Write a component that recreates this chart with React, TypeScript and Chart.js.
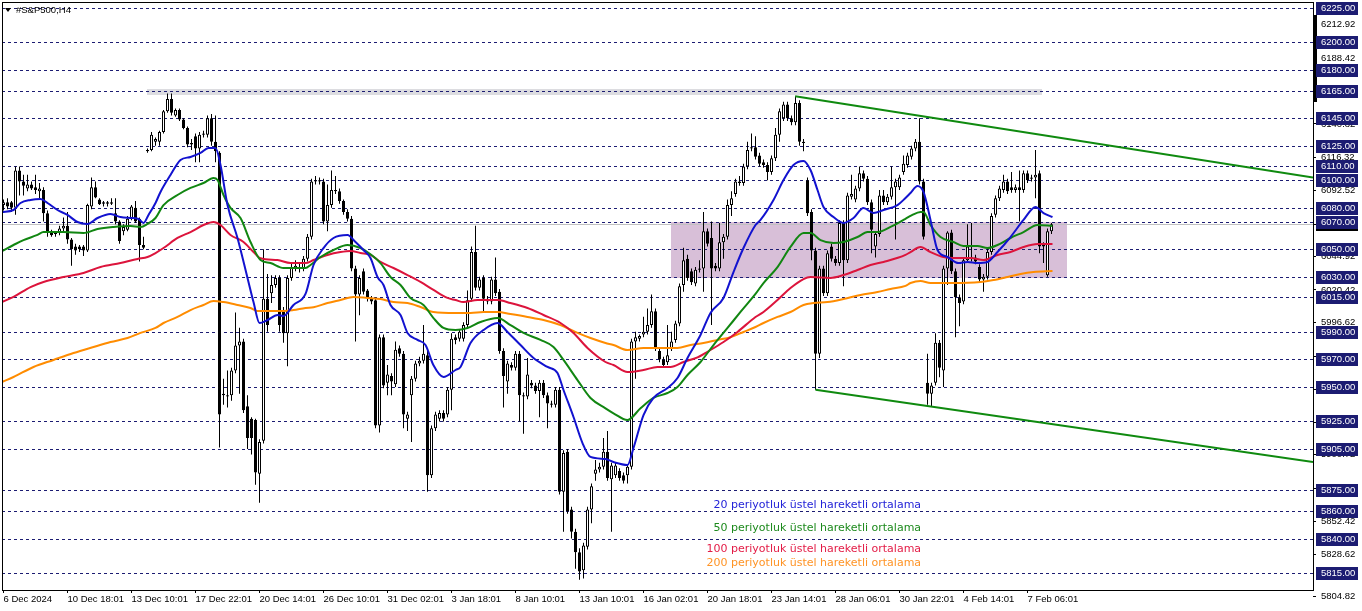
import React, { useEffect, useRef } from 'react';
import { Chart, registerables } from 'chart.js';

Chart.register(...registerables);

// ---------- DATA ----------
// H4 candles: [open, high, low, close]
const CANDLES: [number, number, number, number][] = [
  [6082, 6086, 6078, 6084], [6084, 6087, 6079, 6081], [6084, 6085, 6077, 6080], [6080, 6110, 6075, 6107],
  [6107, 6110, 6089, 6099], [6099, 6104, 6089, 6096], [6094, 6104, 6092, 6097], [6097, 6099, 6093, 6094],
  [6095, 6104, 6090, 6093], [6092, 6098, 6087, 6094], [6093, 6095, 6070, 6076], [6076, 6078, 6059, 6063],
  [6063, 6064, 6059, 6060], [6061, 6063, 6059, 6062], [6062, 6067, 6060, 6065], [6065, 6073, 6063, 6067],
  [6067, 6077, 6054, 6057], [6057, 6058, 6038, 6050], [6052, 6054, 6046, 6049], [6052, 6053, 6048, 6050],
  [6052, 6053, 6045, 6049], [6049, 6083, 6048, 6082], [6081, 6102, 6079, 6095], [6095, 6099, 6087, 6087.5],
  [6086, 6087, 6082, 6082.5], [6083, 6085, 6081, 6084], [6084, 6085, 6081, 6083], [6084, 6087, 6082, 6083],
  [6076, 6087, 6068, 6070], [6070, 6071, 6054, 6056], [6063, 6068, 6060, 6066], [6064, 6074, 6063, 6072],
  [6072, 6082, 6071, 6081], [6080, 6085, 6069, 6070], [6072, 6073, 6041, 6053], [6053, 6059, 6050, 6051],
  [6121, 6123, 6120, 6122], [6122, 6135, 6121, 6133], [6128, 6131, 6125, 6130], [6128, 6136, 6125, 6135],
  [6135, 6151, 6134, 6150], [6150, 6163, 6149, 6159], [6159, 6163, 6147, 6149], [6147, 6152, 6146, 6151],
  [6151, 6152, 6143, 6144], [6144, 6145, 6137, 6138], [6138, 6139, 6124, 6126], [6126, 6130, 6122, 6127],
  [6132, 6134, 6113, 6123], [6123, 6135, 6113, 6133], [6133, 6136, 6131, 6134], [6133, 6147, 6131, 6145],
  [6145, 6148, 6125, 6128], [6128, 6147, 6113, 6121], [6120, 6121, 5906, 5930], [5944, 5956, 5937, 5945],
  [5944, 5962, 5935, 5943], [5944, 5964, 5940, 5962], [5962, 6004, 5960, 5980], [5980, 5993, 5945, 5983],
  [5983, 5985, 5931, 5933], [5936, 5944, 5905, 5913], [5927, 5928, 5901, 5913], [5926, 5927, 5879, 5888],
  [5887, 5912, 5866, 5910], [5911, 6050, 5909, 6014], [6014, 6032, 5990, 5995], [6018, 6031, 6011, 6024],
  [6024, 6031, 6022, 6029], [6029, 6031, 5990, 5995], [6005, 6008, 5982, 5989], [5989, 6031, 5965, 6029],
  [6029, 6040, 6027, 6037], [6036, 6042, 6034, 6038], [6037, 6040, 6033, 6036], [6036, 6045, 6034, 6043],
  [6043, 6061, 6041, 6059], [6059, 6101, 6057, 6099], [6099, 6103, 6097, 6100], [6100, 6102, 6097, 6099],
  [6099, 6101, 6068, 6070], [6070, 6097, 6063, 6082], [6082, 6107, 6080, 6093], [6093, 6103, 6090, 6092],
  [6092, 6094, 6083, 6085], [6085, 6086, 6075, 6077], [6077, 6079, 6070, 6072], [6072, 6074, 6034, 6036],
  [6036, 6038, 5983, 6017], [6017, 6031, 6002, 6029], [6034, 6036, 6017, 6019], [6020, 6021, 6012, 6015],
  [6014, 6016, 6010, 6012], [6013, 6015, 5920, 5922], [5922, 5988, 5917, 5986], [5986, 5988, 5949, 5951],
  [5953, 5966, 5944, 5959], [5958, 5960, 5944, 5954], [5952, 5983, 5950, 5977], [5978, 5980, 5972, 5974],
  [5974, 5976, 5920, 5930], [5927, 5932, 5918, 5930], [5944, 5958, 5910, 5956], [5956, 5969, 5954, 5967],
  [5967, 5972, 5965, 5969], [5969, 5995, 5967, 5974], [5973, 5976, 5874, 5886], [5886, 5922, 5884, 5920],
  [5920, 5932, 5918, 5930], [5927, 5933, 5925, 5931], [5931, 5933, 5925, 5927], [5930, 5950, 5928, 5948],
  [5948, 5989, 5933, 5985], [5986, 5988, 5981, 5984], [5985, 5992, 5983, 5990], [5985, 5997, 5983, 5995],
  [5995, 6020, 5993, 6013], [6014, 6052, 6012, 6048], [6048, 6067, 6020, 6022], [6022, 6030, 6020, 6028],
  [6029, 6031, 6005, 6014], [6014, 6016, 6010, 6012], [6012, 6030, 6010, 6028], [6028, 6044, 6016, 6018],
  [6019, 6021, 5974, 5976], [5976, 5978, 5935, 5958], [5954, 5969, 5945, 5967], [5966, 5968, 5962, 5964],
  [5964, 5976, 5962, 5974], [5974, 5976, 5925, 5944], [5944, 5946, 5916, 5943], [5943, 5971, 5941, 5959],
  [5953, 5955, 5949, 5951], [5951, 5953, 5945, 5947], [5947, 5955, 5928, 5953], [5953, 5955, 5942, 5944],
  [5944, 5946, 5920, 5938], [5938, 5940, 5935, 5937], [5937, 5950, 5935, 5948], [5948, 5950, 5872, 5874],
  [5874, 5904, 5845, 5902], [5903, 5905, 5858, 5860], [5861, 5863, 5840, 5845], [5845, 5847, 5818, 5830],
  [5830, 5833, 5810, 5816], [5817, 5837, 5811, 5835], [5834, 5863, 5832, 5861], [5861, 5880, 5851, 5878],
  [5887, 5897, 5882, 5890], [5890, 5895, 5888, 5892], [5892, 5913, 5890, 5903], [5903, 5918, 5882, 5884],
  [5883, 5895, 5845, 5893], [5886, 5895, 5884, 5893], [5889, 5891, 5882, 5884], [5886, 5888, 5880, 5882],
  [5886, 5894, 5880, 5892], [5892, 5985, 5890, 5983], [5983, 5990, 5956, 5986], [5985, 5988, 5983, 5987],
  [5988, 6001, 5986, 5990], [5990, 6007, 5988, 5995], [5995, 6017, 5993, 6005], [6005, 6007, 5976, 5978],
  [5976, 5978, 5968, 5970], [5970, 5972, 5964, 5966], [5968, 5995, 5966, 5973], [5978, 5990, 5976, 5983],
  [5984, 5998, 5982, 5996], [5996, 6025, 5994, 6023], [6024, 6051, 6019, 6042], [6043, 6046, 6027, 6029],
  [6034, 6036, 6024, 6026], [6025, 6037, 6023, 6035], [6035, 6042, 6033, 6036], [6036, 6077, 6019, 6063],
  [6063, 6065, 6052, 6054], [6058, 6070, 5995, 6036], [6038, 6040, 6034, 6036], [6036, 6069, 6034, 6055],
  [6055, 6061, 6043, 6059], [6059, 6086, 6057, 6082], [6082, 6092, 6074, 6087], [6090, 6101, 6088, 6099],
  [6098, 6103, 6096, 6099], [6098, 6112, 6096, 6110], [6110, 6128, 6108, 6122], [6123, 6134, 6121, 6124],
  [6124, 6132, 6115, 6117], [6118, 6120, 6110, 6112], [6113, 6115, 6109, 6111], [6111, 6113, 6100, 6106],
  [6106, 6118, 6104, 6116], [6116, 6138, 6114, 6133], [6133, 6152, 6128, 6150], [6145, 6157, 6143, 6155],
  [6155, 6157, 6143, 6145], [6145, 6147, 6140, 6142], [6142, 6161, 6140, 6156], [6156, 6158, 6125, 6128],
  [6128, 6130, 6121, 6127], [6100, 6102, 6074, 6076], [6077, 6079, 6042, 6049], [6049, 6051, 5948, 5974],
  [5974, 6038, 5971, 6036], [6036, 6038, 6016, 6018], [6018, 6049, 6016, 6047], [6052, 6054, 6041, 6043],
  [6043, 6045, 6038, 6040], [6040, 6071, 6038, 6069], [6069, 6071, 6023, 6042], [6042, 6091, 6040, 6089],
  [6088, 6104, 6086, 6090], [6086, 6096, 6084, 6094], [6094, 6110, 6092, 6105], [6105, 6107, 6099, 6101],
  [6101, 6103, 6082, 6084], [6084, 6086, 6047, 6064], [6052, 6063, 6044, 6061], [6061, 6093, 6059, 6089],
  [6089, 6093, 6082, 6084], [6084, 6090, 6082, 6088], [6088, 6110, 6086, 6095], [6095, 6101, 6057, 6099],
  [6095, 6104, 6093, 6102], [6106, 6118, 6104, 6112], [6111, 6120, 6109, 6118], [6117, 6125, 6115, 6123],
  [6123, 6130, 6121, 6128], [6128, 6145, 6097, 6099], [6099, 6101, 6057, 6059], [5953, 5974, 5937, 5945],
  [5945, 5953, 5936, 5951], [5953, 5989, 5951, 5982], [5982, 5984, 5957, 5964], [5962, 6038, 5950, 6036],
  [6036, 6063, 6024, 6062], [6062, 6064, 6032, 6034], [6034, 6036, 5986, 6015], [6015, 6017, 5994, 6011],
  [6012, 6044, 6010, 6042], [6042, 6068, 6040, 6052], [6044, 6069, 6041, 6043], [6044, 6046, 6039, 6041],
  [6037, 6039, 6026, 6028], [6028, 6032, 6019, 6030], [6030, 6050, 6028, 6048], [6048, 6076, 6046, 6074],
  [6075, 6089, 6073, 6087], [6087, 6096, 6085, 6094], [6093, 6104, 6091, 6099], [6099, 6101, 6090, 6092],
  [6095, 6106, 6091, 6093], [6093, 6097, 6091, 6095], [6095, 6107, 6070, 6093], [6093, 6107, 6091, 6105],
  [6105, 6107, 6098, 6100], [6101, 6104, 6099, 6102], [6102, 6122, 6087, 6104], [6105, 6107, 6047, 6052],
  [6053, 6055, 6040, 6052], [6031, 6065, 6030, 6063], [6063, 6069, 6061, 6068.02],
];

// Moving averages: [bar index, price]
const EMA20: [number, number][] = [
  [-0.4, 6077], [2.5, 6078.4], [4.25, 6083.5], [6.75, 6085.7], [9.25, 6086.4], [11, 6083.5], [13.5, 6078.4],
  [16, 6074.8], [18.5, 6069.7], [21, 6068.3], [23.5, 6072.6], [26.75, 6075.5], [29.25, 6073.3], [31.75, 6072.6],
  [33.75, 6071.9], [35, 6069], [36.25, 6074.8], [38, 6083.5], [39.25, 6091.5], [41.75, 6103.8], [44.25, 6114.7],
  [46.75, 6116.9], [49.25, 6119.8], [51.25, 6123.4], [53, 6123.4], [54.25, 6111.1], [56, 6082], [58.5, 6058.1],
  [61, 6029.1], [62.5, 6011.6], [64, 5996.4], [66, 5998.6], [68.5, 6002.2], [70, 6001.5], [72.5, 6009.5],
  [75.5, 6017.5], [77.5, 6038.5], [80, 6050.8], [82.5, 6058.1], [86, 6060.3], [88, 6055.2], [90, 6049.4],
  [91.75, 6043.6], [93.5, 6029.8], [95, 6024], [96.75, 6009.5], [99.25, 6002.2], [101, 5989.2], [103.5, 5984.1],
  [105.5, 5980.4], [107.5, 5965.7], [110, 5957.2], [113, 5962.3], [114.25, 5964.5], [116.75, 5981.9], [120, 5991.3],
  [123.5, 5996.4], [126, 5989.9], [129.25, 5980.4], [132.5, 5971], [136, 5964.5], [138.5, 5960.1], [140, 5947.8],
  [142.5, 5928.2], [144.75, 5909.3], [146.75, 5899.2], [150.5, 5897.7], [152.5, 5895.5], [156, 5893.4],
  [157.5, 5905.7], [160, 5929.6], [162.5, 5942], [166, 5949.2], [168.5, 5956.5], [171, 5971], [174.25, 5987.7],
  [176.75, 6003.7], [180, 6014.6], [182.5, 6033.4], [185, 6050.8], [188, 6067.5], [189.25, 6071.2], [192.5, 6085.7],
  [195, 6100.2], [197.5, 6111.1], [200, 6114], [201.75, 6107.4], [203.5, 6092.9], [205, 6080.6], [207.5, 6073.3],
  [210, 6069], [212.5, 6072.6], [215, 6079.9], [217.5, 6076.2], [220, 6078.4], [223.5, 6082], [225.5, 6087.1],
  [226.75, 6090.7], [228.5, 6095.8], [230, 6091.5], [231.75, 6071.2], [233.5, 6049.4], [236, 6044.3],
  [238.75, 6039.9], [241, 6040.7], [243.5, 6039.9], [246, 6040.7], [248.5, 6047.9], [251.75, 6058.8], [255, 6071.2],
  [258, 6080.6], [260, 6076.2], [262.25, 6073.3],
];

const EMA50: [number, number][] = [
  [-0.4, 6048.5], [2.5, 6053], [5, 6056.6], [8.5, 6060.3], [10, 6062.4], [15, 6062.4], [20, 6061.7], [23.5, 6064.6],
  [27.5, 6066.1], [31.75, 6066.8], [34.25, 6066.1], [36, 6068.3], [38, 6072.6], [40, 6082], [43.5, 6089.3],
  [46.75, 6094.4], [50, 6098], [52.5, 6101.6], [53.5, 6100.2], [55, 6089.3], [56.75, 6079.9], [59.25, 6072.6],
  [61.75, 6055.2], [64.25, 6042.1], [66.75, 6039.9], [70, 6036.3], [75.5, 6036.3], [76.75, 6038.5], [79.25, 6044.3],
  [82.5, 6049.4], [86, 6053], [89.25, 6050.8], [91.75, 6046.3], [94.25, 6039.9], [96.75, 6029.8], [99.25, 6024],
  [101.75, 6014.6], [105, 6009.5], [107.5, 6000], [110, 5992.8], [113, 5991.3], [116, 5992.8], [119.25, 5997.1],
  [123.5, 6000], [126.75, 5994.9], [130, 5989.2], [134.25, 5984.1], [137.5, 5979], [140, 5969.6], [143.5, 5955],
  [146.75, 5942], [150.5, 5934.5], [152.5, 5930.9], [156, 5926], [159.25, 5934.5], [162.5, 5942], [166, 5945.6],
  [168.5, 5950], [171, 5958.7], [174.25, 5968.1], [177.5, 5980.4], [181, 5992.8], [184.25, 6004.4], [188, 6017.5],
  [190, 6025.4], [193.5, 6037], [196.75, 6051.6], [200, 6061.7], [201.75, 6061.7], [204.25, 6056.6], [207.5, 6054.5],
  [210, 6055.2], [213.5, 6058.8], [216, 6062.4], [218.5, 6062.4], [221.75, 6066.1], [225.5, 6072], [227, 6074.5],
  [229.25, 6077], [230, 6077], [231.75, 6067.5], [234.25, 6058.8], [237.5, 6055.2], [240, 6052.3], [243.5, 6052.3],
  [246, 6050.8], [248.5, 6053], [251.75, 6058.1], [255, 6062.4], [258.5, 6067.5], [262.25, 6066.8],
];

const EMA100: [number, number][] = [
  [-0.4, 6011.6], [2.5, 6015.3], [6.75, 6022.5], [10, 6026.2], [15, 6029.8], [20, 6032.7], [24.25, 6037],
  [29.25, 6039.9], [33.5, 6042.9], [36, 6044.3], [38, 6047.2], [40, 6050.8], [43.5, 6058.1], [46.75, 6062.4],
  [50, 6067.5], [52.5, 6069.7], [54.25, 6067.5], [56.75, 6060.3], [60, 6055.2], [62.5, 6047.9], [64.25, 6043.4],
  [68.5, 6042.1], [71.75, 6039.9], [75.5, 6039.9], [77.5, 6042.1], [81, 6045.8], [84.25, 6047.9], [86.75, 6048.7],
  [89.25, 6047.2], [91.75, 6045.8], [94.25, 6040.7], [97.5, 6036.3], [101, 6031.2], [104.25, 6026.2],
  [107.5, 6020.4], [111, 6014.6], [113, 6013.1], [115, 6011.6], [118.5, 6013.1], [123.5, 6013.1], [126.75, 6010.9],
  [131, 6007.3], [135, 6002.2], [139.25, 5996.4], [142.5, 5989.2], [146, 5978.3], [150.5, 5968.1], [152.5, 5965.9],
  [156, 5960.8], [160, 5962.3], [163.5, 5964.5], [166.75, 5964.5], [170, 5968.1], [173.5, 5971.5], [176.75, 5976.8],
  [180, 5982.6], [183.5, 5989.9], [188, 6000.8], [190, 6004.4], [193.5, 6013.1], [196.75, 6021.8], [200, 6028.3],
  [201.75, 6029.8], [206.75, 6029.1], [210, 6031.2], [213.5, 6034.9], [216.75, 6038.5], [220, 6040.7],
  [225.5, 6045.8], [226.75, 6047.9], [229.25, 6051.6], [231.75, 6047.9], [235, 6044.3], [238.5, 6043.6],
  [241.75, 6043.6], [245, 6042.1], [248.5, 6045.8], [251.75, 6047.9], [255, 6051.6], [258.5, 6053.7], [262.25, 6053.7],
];

const EMA200: [number, number][] = [
  [-0.4, 5953.6], [2.5, 5957.2], [7.5, 5964.5], [12.5, 5969.6], [17.5, 5974.6], [22.5, 5979], [26.75, 5982.6],
  [31, 5985.5], [34.25, 5989.2], [38, 5992.8], [40, 5996.4], [43.5, 6000.8], [46.75, 6005.8], [50, 6009.5],
  [52.5, 6012.4], [55, 6011.6], [58.5, 6009.5], [61.75, 6007.3], [63.5, 6005.1], [70, 6005.1], [72.5, 6005.8],
  [75.5, 6007.3], [77.5, 6007.8], [81, 6010.9], [84.25, 6013.1], [87.5, 6015.3], [91, 6014.6], [94.25, 6013.8],
  [97.5, 6011.6], [101, 6010.9], [104.25, 6008], [107.5, 6004.4], [113, 6003.7], [116.75, 6003.7], [120, 6004.4],
  [123.5, 6004.4], [126.75, 6002.9], [131, 6000.8], [135, 5998.6], [139.25, 5994.9], [143.5, 5989.2],
  [146.75, 5985.5], [150.5, 5981.9], [152.5, 5980.4], [156, 5976.8], [160, 5978.3], [168.5, 5978.3],
  [171.75, 5980.4], [175, 5981.9], [178.5, 5984.1], [181.75, 5986.1], [185, 5989.9], [188, 5993.5], [190, 5996.4],
  [193.5, 6000.8], [196.75, 6004.4], [200, 6009.5], [202.5, 6010.9], [206, 6011.6], [210, 6013.8], [214.25, 6016.7],
  [218.5, 6018.9], [221.75, 6021.1], [225.5, 6023.3], [226.75, 6025.4], [229.25, 6026.9], [231.75, 6025.4],
  [237.5, 6025.4], [244.25, 6026.2], [247.5, 6027.6], [251, 6029.8], [254.25, 6032], [257.5, 6033.4], [262.25, 6034.1],
];

// Trend channel lines: [bar index, price]
const CHANNEL_UPPER: [number, number][] = [[197.9, 6161], [327.375, 6101.9]];
const CHANNEL_LOWER: [number, number][] = [[203, 5948], [327.375, 5895.5]];

// Time axis
const DATE_LABELS = [
  '6 Dec 2024', '10 Dec 18:01', '13 Dec 10:01', '17 Dec 22:01', '20 Dec 14:01', '26 Dec 10:01',
  '31 Dec 02:01', '3 Jan 18:01', '8 Jan 10:01', '13 Jan 10:01', '16 Jan 02:01', '20 Jan 18:01',
  '23 Jan 14:01', '28 Jan 06:01', '30 Jan 22:01', '4 Feb 14:01', '7 Feb 06:01',
];
const BARS_PER_DATE_LABEL = 16;

// Price axis
const PRICE_TICKS = [
  6212.92, 6188.42, 6164.62, 6140.82, 6116.32, 6092.52, 6068.02, 6044.92, 6020.42,
  5996.62, 5972.12, 5948.32, 5924.52, 5900.72, 5876.22, 5852.42, 5828.62,
];
const BOTTOM_PRICE_LABEL = 5804.82;
const LEVELS = [
  6225, 6200, 6180, 6165, 6145, 6125, 6110, 6100, 6080, 6070, 6050, 6030, 6015,
  5990, 5970, 5950, 5925, 5905, 5875, 5860, 5840, 5815,
];
const CURRENT_PRICE = 6068.02;
const PRICE_MIN = 5802.64;
const PRICE_MAX = 6229.354;
const INDEX_MIN = -0.375;
const INDEX_MAX = 327.375;

// Zones
const TOP_BAND = { from: 35.9, to: 259.6, high: 6166.2, low: 6161.9 };
const RANGE_BOX = { from: 166.9, to: 265.9, high: 6070, low: 6029 };

const NOTES = [
  { text: '20 periyotluk üstel hareketli ortalama', color: '#2424d8', price: 5864.3 },
  { text: '50 periyotluk üstel hareketli ortalama', color: '#1d8a1d', price: 5847.6 },
  { text: '100 periyotluk üstel hareketli ortalama', color: '#e31c46', price: 5832.4 },
  { text: '200 periyotluk üstel hareketli ortalama', color: '#ff9426', price: 5822.2 },
];
const NOTE_RIGHT_INDEX = 229.4;

// ---------- STYLE ----------
const NAVY = '#1c1c72';
const AXIS_FAMILY = "'Liberation Sans', Arial, sans-serif";
const AXIS_SIZE = 9.5;
const COL20 = '#1212cf';
const COL50 = '#118611';
const COL100 = '#dc143c';
const COL200 = '#ff8c00';
const CHANNEL_COL = '#0f8a0f';

const overlayPlugin = {
  id: 'mtOverlay',
  beforeDatasetsDraw(chart: any) {
    const { ctx, chartArea: a, scales } = chart;
    const xs = scales.x;
    const ys = scales.y;
    ctx.save();
    ctx.beginPath();
    ctx.rect(a.left, a.top, a.right - a.left, a.bottom - a.top);
    ctx.clip();
    const zone = (z: any, color: string) => {
      const x1 = Math.round(xs.getPixelForValue(z.from));
      const x2 = Math.round(xs.getPixelForValue(z.to));
      const y1 = Math.round(ys.getPixelForValue(z.high));
      const y2 = Math.round(ys.getPixelForValue(z.low));
      ctx.fillStyle = color;
      ctx.fillRect(x1, y1, x2 - x1, y2 - y1);
    };
    zone(TOP_BAND, '#dcdce0');
    zone(RANGE_BOX, '#d8bfd8');
    ctx.lineWidth = 1;
    const cp = Math.round(ys.getPixelForValue(CURRENT_PRICE)) + 0.5;
    ctx.strokeStyle = '#c0c0c0';
    ctx.beginPath();
    ctx.moveTo(a.left, cp);
    ctx.lineTo(a.right, cp);
    ctx.stroke();
    ctx.strokeStyle = NAVY;
    ctx.setLineDash([3, 3]);
    LEVELS.forEach((v) => {
      const py = Math.round(ys.getPixelForValue(v)) + 0.5;
      ctx.beginPath();
      ctx.moveTo(a.left, py);
      ctx.lineTo(a.right, py);
      ctx.stroke();
    });
    ctx.restore();
  },
  afterDraw(chart: any) {
    const { ctx, chartArea: a, scales } = chart;
    const xs = scales.x;
    const ys = scales.y;
    ctx.save();
    // notes
    ctx.font = "11px 'DejaVu Sans', sans-serif";
    ctx.textAlign = 'right';
    ctx.textBaseline = 'middle';
    const nx = xs.getPixelForValue(NOTE_RIGHT_INDEX);
    NOTES.forEach((n) => {
      ctx.fillStyle = n.color;
      ctx.fillText(n.text, nx, ys.getPixelForValue(n.price));
    });
    // frame
    ctx.strokeStyle = '#000';
    ctx.lineWidth = 1;
    ctx.setLineDash([]);
    ctx.strokeRect(a.left + 0.5, a.top + 0.5, a.right - a.left, a.bottom - a.top);
    // symbol label
    ctx.fillStyle = '#000';
    ctx.beginPath();
    ctx.moveTo(a.left + 3, a.top + 6);
    ctx.lineTo(a.left + 9, a.top + 6);
    ctx.lineTo(a.left + 6, a.top + 10);
    ctx.closePath();
    ctx.fill();
    ctx.font = `${AXIS_SIZE}px ${AXIS_FAMILY}`;
    ctx.textAlign = 'left';
    ctx.fillText('#S&P500,H4', a.left + 14, a.top + 8.5);
    // dark bar on price scale
    const b1 = Math.round(ys.getPixelForValue(6220));
    const b2 = Math.round(ys.getPixelForValue(6156.8));
    ctx.fillRect(a.right + 1, b1, 3, b2 - b1);
    // bottom price label
    const by = a.bottom + 6;
    ctx.beginPath();
    ctx.moveTo(a.right, by + 0.5);
    ctx.lineTo(a.right + 3, by + 0.5);
    ctx.stroke();
    ctx.fillText(BOTTOM_PRICE_LABEL.toFixed(2), a.right + 8, by);
    // price boxes
    const boxX = a.right + 3;
    const boxW = 42;
    const cpY = Math.round(ys.getPixelForValue(CURRENT_PRICE));
    ctx.fillStyle = '#000';
    ctx.fillRect(boxX, cpY - 6, boxW, 13);
    ctx.fillStyle = '#fff';
    ctx.fillText(CURRENT_PRICE.toFixed(2), a.right + 8, cpY + 0.5);
    LEVELS.forEach((v) => {
      const py = Math.round(ys.getPixelForValue(v));
      ctx.fillStyle = NAVY;
      ctx.fillRect(boxX, py - 6, boxW, 13);
      ctx.fillStyle = '#fff';
      ctx.fillText(v.toFixed(2), a.right + 8, py + 0.5);
    });
    ctx.restore();
  },
};

const toXY = (pts: [number, number][]) => pts.map(([x, y]) => ({ x, y }));

export default function App() {
  const canvasRef = useRef<HTMLCanvasElement | null>(null);

  useEffect(() => {
    const canvas = canvasRef.current;
    if (!canvas) return;
    const lineDs = (label: string, pts: [number, number][], color: string, order: number, smooth = true) => ({
      type: 'line' as const,
      label,
      data: toXY(pts),
      borderColor: color,
      borderWidth: 2,
      pointRadius: 0,
      fill: false,
      cubicInterpolationMode: smooth ? ('monotone' as const) : ('default' as const),
      tension: 0,
      order,
    });
    const chart = new Chart(canvas, {
      type: 'bar',
      data: {
        datasets: [
          {
            type: 'bar',
            label: 'wicks',
            data: CANDLES.map((c, i) => ({ x: i, y: [c[2], c[1]] })) as any,
            backgroundColor: '#000',
            borderWidth: 0,
            barThickness: 1,
            grouped: false,
            inflateAmount: 0,
            order: 10,
          },
          {
            type: 'bar',
            label: 'bodies',
            data: CANDLES.map((c, i) => ({ x: i, y: [c[0], c[3]] })) as any,
            backgroundColor: CANDLES.map((c) => (c[3] >= c[0] ? '#ffffff' : '#000000')),
            borderColor: '#000',
            borderWidth: 1,
            borderSkipped: false,
            barThickness: 3,
            grouped: false,
            inflateAmount: 0,
            order: 9,
          },
          lineDs('EMA200', EMA200, COL200, 6),
          lineDs('EMA100', EMA100, COL100, 5),
          lineDs('EMA50', EMA50, COL50, 4),
          lineDs('EMA20', EMA20, COL20, 3),
          lineDs('upper', CHANNEL_UPPER, CHANNEL_COL, 1, false),
          lineDs('lower', CHANNEL_LOWER, CHANNEL_COL, 1, false),
        ] as any,
      },
      options: {
        responsive: false,
        animation: false,
        devicePixelRatio: 1,
        events: [],
        layout: { padding: { left: 2, top: 2, right: 0, bottom: 0 } },
        plugins: { legend: { display: false }, tooltip: { enabled: false } },
        scales: {
          x: {
            type: 'linear',
            min: INDEX_MIN,
            max: INDEX_MAX,
            offset: false,
            afterBuildTicks: (s: any) => {
              s.ticks = DATE_LABELS.map((_, k) => ({ value: k * BARS_PER_DATE_LABEL }));
            },
            afterFit: (s: any) => {
              s.height = 21;
              s.paddingLeft = 0;
              s.paddingRight = 0;
            },
            ticks: {
              autoSkip: false,
              maxRotation: 0,
              minRotation: 0,
              align: 'start',
              padding: 1,
              color: '#000',
              font: { family: AXIS_FAMILY, size: AXIS_SIZE },
              callback: (_v: any, idx: number) => DATE_LABELS[idx] ?? '',
            },
            grid: { drawOnChartArea: false, drawTicks: true, tickLength: 3, color: '#000', offset: false },
            border: { display: false },
          },
          y: {
            type: 'linear',
            position: 'right',
            min: PRICE_MIN,
            max: PRICE_MAX,
            afterBuildTicks: (s: any) => {
              s.ticks = PRICE_TICKS.map((v) => ({ value: v }));
            },
            afterFit: (s: any) => {
              s.width = 49;
              s.paddingTop = 0;
              s.paddingBottom = 0;
            },
            ticks: {
              autoSkip: false,
              padding: 5,
              color: '#000',
              font: { family: AXIS_FAMILY, size: AXIS_SIZE },
              callback: (v: any) => Number(v).toFixed(2),
            },
            grid: { drawOnChartArea: false, drawTicks: true, tickLength: 3, color: '#000' },
            border: { display: false },
          },
        },
      } as any,
      plugins: [overlayPlugin],
    });
    return () => chart.destroy();
  }, []);

  return (
    <div style={{ position: 'fixed', left: 0, top: 0, width: 1362, height: 611, background: '#fff' }}>
      <canvas ref={canvasRef} width={1362} height={611} style={{ display: 'block', width: 1362, height: 611 }} />
    </div>
  );
}
